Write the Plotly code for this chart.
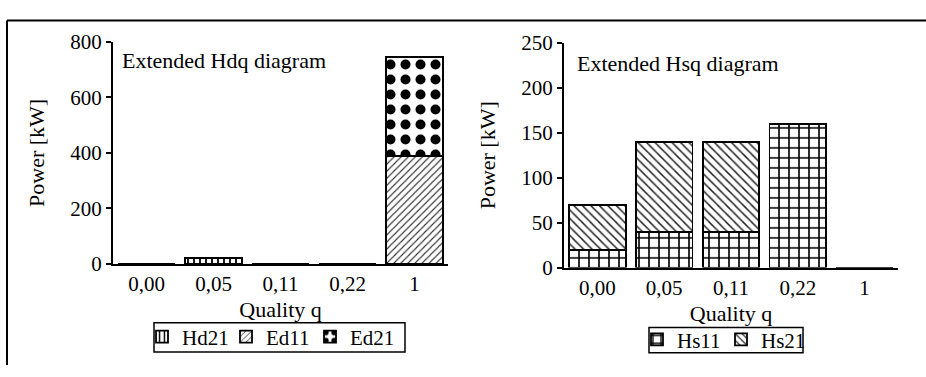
import plotly.graph_objects as go

W, H = 926, 377
FONT = "Liberation Serif"

categories = ["0,00", "0,05", "0,11", "0,22", "1"]

# Extended Hdq diagram (left)
hd21 = [0, 20, 0, 0, 0]
ed11 = [0, 0, 0, 0, 390]
ed21 = [0, 0, 0, 0, 355]

# Extended Hsq diagram (right)
hs11 = [20, 40, 40, 160, 0]
hs21 = [50, 100, 100, 0, 0]

left_ticks = [0, 200, 400, 600, 800]
right_ticks = [0, 50, 100, 150, 200, 250]


def px(x):
    return x / W


def py(y):
    return 1 - y / H


line = dict(color="black", width=1.8)

fig = go.Figure()

fig.add_trace(go.Bar(
    x=categories, y=hd21, name="Hd21", xaxis="x", yaxis="y", legend="legend",
    marker=dict(color="white", line=line,
                pattern=dict(shape="|", fgcolor="black", bgcolor="white",
                             size=6, solidity=0.3, fillmode="replace")),
))
fig.add_trace(go.Bar(
    x=categories, y=ed11, name="Ed11", xaxis="x", yaxis="y", legend="legend",
    marker=dict(color="white", line=line,
                pattern=dict(shape="/", fgcolor="#333", bgcolor="white",
                             size=5, solidity=0.22, fillmode="replace")),
))
fig.add_trace(go.Bar(
    x=categories, y=ed21, name="Ed21", xaxis="x", yaxis="y", legend="legend",
    marker=dict(color="white", line=line,
                pattern=dict(shape=".", fgcolor="black", bgcolor="white",
                             size=15, solidity=0.35, fillmode="replace")),
))

fig.add_trace(go.Bar(
    x=categories, y=hs11, name="Hs11", xaxis="x2", yaxis="y2", legend="legend2",
    marker=dict(color="white", line=line,
                pattern=dict(shape="+", fgcolor="black", bgcolor="white",
                             size=10, solidity=0.3, fillmode="replace")),
))
fig.add_trace(go.Bar(
    x=categories, y=hs21, name="Hs21", xaxis="x2", yaxis="y2", legend="legend2",
    marker=dict(color="white", line=line,
                pattern=dict(shape="\\", fgcolor="#222", bgcolor="white",
                             size=6, solidity=0.25, fillmode="replace")),
))

tickfont = dict(family=FONT, size=21, color="black")
titlefont = dict(family=FONT, size=22, color="black")

xcommon = dict(type="category", showline=True, linecolor="black", linewidth=2,
               ticks="", showgrid=False, zeroline=False, tickfont=tickfont,
               title=dict(text="Quality q", font=titlefont, standoff=7),
               ticklabelstandoff=0, fixedrange=True)
ycommon = dict(showline=True, linecolor="black", linewidth=2, ticks="outside",
               ticklen=5, tickcolor="black", tickwidth=1.5, showgrid=False,
               zeroline=False, tickfont=tickfont,
               title=dict(text="Power [kW]", font=titlefont, standoff=20),
               fixedrange=True)

legcommon = dict(orientation="h", xanchor="center", yanchor="middle",
                 borderwidth=0, font=dict(family=FONT, size=21, color="black"),
                 itemwidth=30, tracegroupgap=0, bgcolor="rgba(0,0,0,0)",
                 traceorder="normal", entrywidth=39)

box = dict(color="black", width=1.5)

fig.update_layout(
    width=W, height=H,
    margin=dict(l=0, r=0, t=0, b=0),
    paper_bgcolor="white", plot_bgcolor="white",
    barmode="stack", bargap=0.15,
    font=dict(family=FONT, color="black"),
    xaxis=dict(domain=[px(113), px(448)], anchor="y", **xcommon),
    yaxis=dict(domain=[py(269), py(32)], anchor="x", range=[0, 800],
               tickvals=left_ticks, **ycommon),
    xaxis2=dict(domain=[px(564), px(898)], anchor="y2", **xcommon),
    yaxis2=dict(domain=[py(273), py(33)], anchor="x2", range=[0, 250],
                tickvals=right_ticks, **ycommon),
    legend=dict(x=px(268), y=py(347), **legcommon),
    legend2=dict(x=px(721), y=py(350), **legcommon),
    annotations=[
        dict(text="Extended Hdq diagram", xref="paper", yref="paper",
             x=px(120), y=py(52), xanchor="left", yanchor="middle",
             showarrow=False, font=dict(family=FONT, size=22, color="black")),
        dict(text="Extended Hsq diagram", xref="paper", yref="paper",
             x=px(575), y=py(55), xanchor="left", yanchor="middle",
             showarrow=False, font=dict(family=FONT, size=22, color="black")),
    ],
    shapes=[
        dict(type="line", xref="paper", yref="paper", x0=px(7), x1=1,
             y0=py(9), y1=py(9), line=dict(color="black", width=2)),
        dict(type="line", xref="paper", yref="paper", x0=px(7), x1=px(7),
             y0=0, y1=py(9), line=dict(color="black", width=2)),
        dict(type="rect", xref="paper", yref="paper", x0=px(154), x1=px(405),
             y0=py(363), y1=py(332), line=box),
        dict(type="rect", xref="paper", yref="paper", x0=px(649), x1=px(803),
             y0=py(364), y1=py(337), line=box),
    ],
)

fig.write_html("out.html")
